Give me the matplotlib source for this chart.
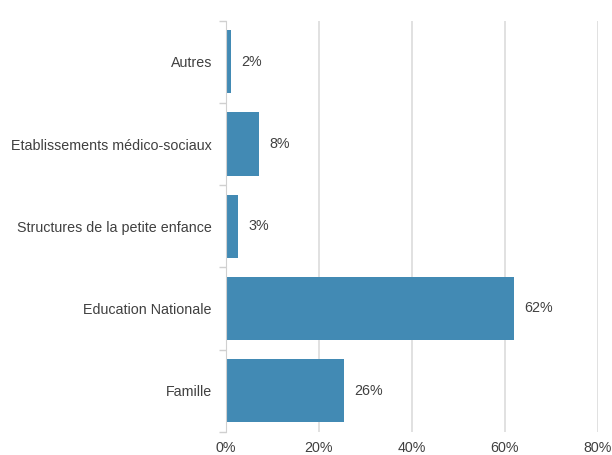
import matplotlib
matplotlib.use("Agg")
import matplotlib.pyplot as plt
from matplotlib.ticker import FuncFormatter

categories = ["Autres", "Etablissements médico-sociaux", "Structures de la petite enfance",
              "Education Nationale", "Famille"]
values = [1.2, 7.2, 2.6, 61.9, 25.4]
labels = ["2%", "8%", "3%", "62%", "26%"]
xticks = [0, 20, 40, 60, 80]

plt.rcParams['font.family'] = ['Liberation Sans', 'DejaVu Sans']
fig = plt.figure(figsize=(6.12, 4.55), dpi=100)
ax = fig.add_axes([0.369, 0.0512, 0.608, 0.9033])

fs = 10.3
y = list(range(len(categories)))
ax.barh(y, values, height=0.77, color="#428ab4", zorder=3)
for yi, v, lab in zip(y, values, labels):
    ax.text(v + 2.2, yi, lab, va="center", ha="left", fontsize=fs, color="#404040")

ax.set_ylim(len(categories) - 0.5, -0.5)
ax.set_xlim(0, 80)
ax.set_xticks(xticks)
ax.xaxis.set_major_formatter(FuncFormatter(lambda v, p: f"{int(v)}%"))
ax.set_yticks(y)
ax.set_yticklabels(categories)
ax.set_yticks([i - 0.5 for i in range(len(categories) + 1)], minor=True)
ax.tick_params(axis="y", which="major", length=0, pad=10, labelsize=fs, labelcolor="#404040")
ax.tick_params(axis="y", which="minor", length=5, color="#d0d0d0", width=1)
ax.tick_params(axis="x", length=0, pad=7, labelsize=fs, labelcolor="#404040")
ax.grid(axis="x", color="#dcdcdc", linewidth=1.2, zorder=0)
for s in ["top", "right", "bottom"]:
    ax.spines[s].set_visible(False)
ax.spines["left"].set_color("#d0d0d0")
ax.spines["left"].set_zorder(4)

fig.savefig("out.png", dpi=100)
